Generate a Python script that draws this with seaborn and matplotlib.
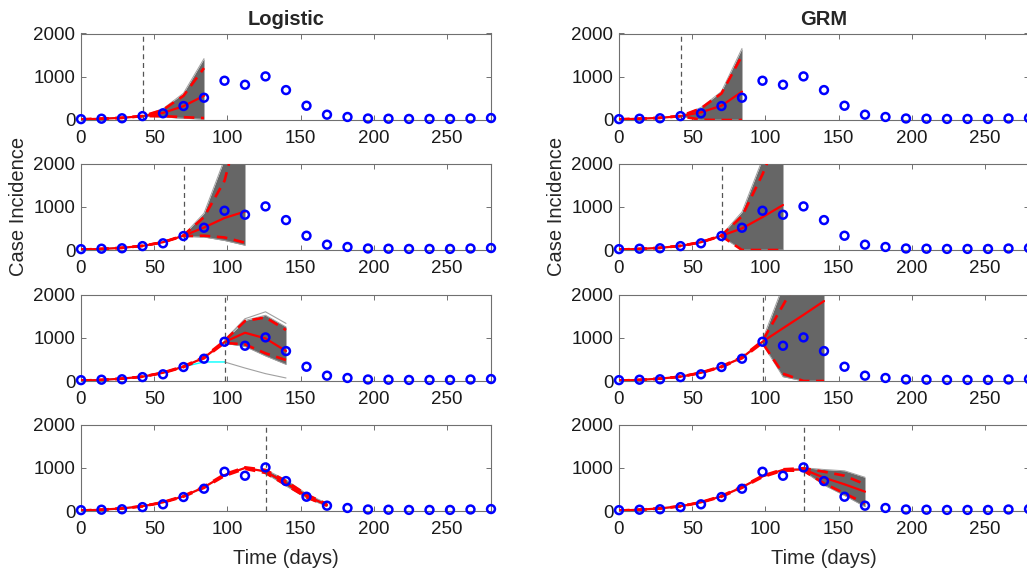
import matplotlib
matplotlib.use("Agg")

import matplotlib.pyplot as plt
import numpy as np
import seaborn as sns

# observed case incidence (every 14 days)
days = np.arange(0, 281, 14)
cases = [20, 30, 40, 90, 155, 323, 515, 908, 815, 1008, 692, 330, 123,
         70, 35, 30, 25, 25, 25, 35, 45]

# --- Logistic model, calibration ends at day 42 ---
log42_mean = [15, 30, 50, 90, 165, 320, 560]
log42_pi_lo = [15, 30, 50, 88, 90, 65, 45]
log42_pi_hi = [15, 30, 50, 92, 235, 560, 1200]
log42_ens_lo = [88, 70, 40, 20]
log42_ens_hi = [92, 260, 620, 1420]

# --- Logistic model, calibration ends at day 70 ---
log70_mean = [10, 25, 50, 95, 180, 330, 520, 740, 890]
log70_pi_lo = [10, 25, 50, 95, 180, 320, 330, 290, 170]
log70_pi_hi = [10, 25, 50, 95, 180, 340, 760, 1600, 3400]
log70_ens_lo = [315, 300, 220, 110]
log70_ens_hi = [345, 850, 2100, 4000]

# --- Logistic model, calibration ends at day 98 ---
log98_mean = [10, 25, 55, 100, 190, 330, 540, 900, 1116, 985, 693]
log98_pi_lo = [10, 25, 55, 100, 185, 320, 525, 880, 847, 640, 485]
log98_pi_hi = [10, 25, 55, 100, 195, 340, 555, 930, 1386, 1470, 1178]
log98_ens_lo = [870, 800, 580, 385]
log98_ens_hi = [940, 1400, 1520, 1250]
log98_ens_top = [950, 1440, 1600, 1332]
log98_ens_bottom = [440, 300, 170, 70]
log98_cyan = [10, 25, 55, 100, 190, 330, 440, 440]

# --- Logistic model, calibration ends at day 126 ---
log126_mean = [10, 30, 60, 110, 200, 340, 550, 830, 995, 915, 640, 346, 138]
log126_pi_lo = [10, 30, 60, 110, 195, 330, 535, 810, 975, 880, 600, 315, 120]
log126_pi_hi = [10, 30, 60, 110, 205, 350, 565, 850, 1010, 950, 690, 380, 160]
log126_ens_lo = [870, 580, 300, 110]
log126_ens_hi = [960, 720, 400, 175]

# --- GRM, calibration ends at day 42 ---
grm42_mean = [15, 30, 50, 90, 178, 330, 655]
grm42_pi_lo = [15, 30, 50, 88, 5, 0, 0]
grm42_pi_hi = [15, 30, 50, 92, 270, 615, 1485]
grm42_ens_lo = [88, 0, 0, 0]
grm42_ens_hi = [92, 290, 660, 1655]

# --- GRM, calibration ends at day 70 ---
grm70_mean = [10, 25, 50, 95, 180, 330, 500, 760, 1040]
grm70_pi_lo = [10, 25, 50, 95, 180, 320, 0, 0, 0]
grm70_pi_hi = [10, 25, 50, 95, 180, 340, 780, 1750, 2900]
grm70_ens_lo = [315, 0, 0, 0]
grm70_ens_hi = [345, 880, 2100, 4000]

# --- GRM, calibration ends at day 98 ---
grm98_mean = [10, 25, 55, 100, 190, 330, 540, 908, 1220, 1530, 1848]
grm98_pi_lo = [10, 25, 55, 100, 185, 320, 525, 880, 170, 0, 0]
grm98_pi_hi = [10, 25, 55, 100, 195, 340, 555, 930, 1750, 2600, 3300]
grm98_ens_lo = [860, 100, 0, 0]
grm98_ens_hi = [950, 2200, 3500, 4500]

# --- GRM, calibration ends at day 126 ---
grm126_mean = [10, 30, 60, 110, 200, 340, 550, 800, 950, 962, 770, 617, 447]
grm126_pi_lo = [10, 30, 60, 110, 195, 330, 535, 785, 935, 930, 640, 408, 178]
grm126_pi_hi = [10, 30, 60, 110, 205, 350, 565, 815, 965, 990, 908, 816, 617]
grm126_ens_lo = [920, 600, 360, 100]
grm126_ens_hi = [1000, 960, 930, 780]

panels = [
    (0, 0, 42, log42_mean, log42_pi_lo, log42_pi_hi, log42_ens_lo, log42_ens_hi),
    (1, 0, 70, log70_mean, log70_pi_lo, log70_pi_hi, log70_ens_lo, log70_ens_hi),
    (2, 0, 98, log98_mean, log98_pi_lo, log98_pi_hi, log98_ens_lo, log98_ens_hi),
    (3, 0, 126, log126_mean, log126_pi_lo, log126_pi_hi, log126_ens_lo, log126_ens_hi),
    (0, 1, 42, grm42_mean, grm42_pi_lo, grm42_pi_hi, grm42_ens_lo, grm42_ens_hi),
    (1, 1, 70, grm70_mean, grm70_pi_lo, grm70_pi_hi, grm70_ens_lo, grm70_ens_hi),
    (2, 1, 98, grm98_mean, grm98_pi_lo, grm98_pi_hi, grm98_ens_lo, grm98_ens_hi),
    (3, 1, 126, grm126_mean, grm126_pi_lo, grm126_pi_hi, grm126_ens_lo, grm126_ens_hi),
]

sns.set_style("ticks", {
    "xtick.direction": "in",
    "ytick.direction": "in",
})
plt.rcParams["font.family"] = ["Liberation Sans", "DejaVu Sans"]
plt.rcParams["axes.edgecolor"] = "#707070"
plt.rcParams["xtick.color"] = "#707070"
plt.rcParams["ytick.color"] = "#707070"
plt.rcParams["xtick.labelcolor"] = "#1a1a1a"
plt.rcParams["ytick.labelcolor"] = "#1a1a1a"

fig = plt.figure(figsize=(10.27, 5.73), dpi=100)

col_left = [81 / 1027, 619 / 1027]
row_bottom = [1 - 120 / 573, 1 - 250 / 573, 1 - 381 / 573, 1 - 511 / 573]
ax_w = 410 / 1027
ax_h = 86.5 / 573

axes = {}
for row, col, t_cal, mean, pi_lo, pi_hi, ens_lo, ens_hi in panels:
    ax = fig.add_axes([col_left[col], row_bottom[row], ax_w, ax_h])
    axes[(row, col)] = ax

    t_all = days[: len(mean)]
    t_fc = np.arange(t_cal, t_all[-1] + 1, 14)

    # forecast ensemble drawn as a gray band
    ax.fill_between(t_fc, ens_lo, ens_hi, color="#666666", lw=0, zorder=1)
    sns.lineplot(x=t_fc, y=ens_hi, ax=ax, color="#a0a0a0", lw=0.7, zorder=1)
    sns.lineplot(x=t_fc, y=ens_lo, ax=ax, color="#a0a0a0", lw=0.7, zorder=1)

    # fitted curve (cyan), mostly hidden under the red
    t_cal_pts = days[: list(days).index(t_cal) + 1]
    sns.lineplot(x=t_cal_pts, y=mean[: len(t_cal_pts)], ax=ax,
                 color="cyan", lw=1.2, zorder=2)

    sns.lineplot(x=t_all, y=mean, ax=ax, color="red", lw=1.6, zorder=3)
    sns.lineplot(x=t_all, y=pi_lo, ax=ax, color="red", lw=1.9,
                 zorder=3).lines[-1].set_dashes((4, 2.5))
    sns.lineplot(x=t_all, y=pi_hi, ax=ax, color="red", lw=1.9,
                 zorder=3).lines[-1].set_dashes((4, 2.5))

    ax.axvline(t_cal, color="#555555", lw=0.9, ls=(0, (4, 3)), zorder=4)

    sns.scatterplot(x=days, y=cases, ax=ax, marker="o", s=32,
                    facecolor="none", edgecolor="blue", linewidth=1.8,
                    zorder=5, clip_on=False)

    ax.set_xlim(0, 280)
    ax.set_ylim(0, 2000)
    ax.set_xticks([0, 50, 100, 150, 200, 250])
    ax.set_yticks([0, 1000, 2000])
    ax.tick_params(axis="both", labelsize=13.5, length=3.5, width=0.7,
                   top=True, right=True)
    ax.tick_params(axis="x", pad=7)
    ax.tick_params(axis="y", pad=4)
    for side in ax.spines.values():
        side.set_linewidth(0.8)
    ax.set_xlabel("")
    ax.set_ylabel("")

# extra realisations of the day-98 logistic forecast
ax = axes[(2, 0)]
t_fc98 = np.arange(98, 141, 14)
sns.lineplot(x=t_fc98, y=log98_ens_top, ax=ax, color="#a0a0a0", lw=0.8, zorder=1)
sns.lineplot(x=t_fc98, y=log98_ens_bottom, ax=ax, color="#a0a0a0", lw=0.8, zorder=1)
sns.lineplot(x=days[: len(log98_cyan)], y=log98_cyan, ax=ax, color="cyan",
             lw=1.0, zorder=2)

axes[(0, 0)].set_title("Logistic", fontsize=14.5, fontweight="bold", pad=6)
axes[(0, 1)].set_title("GRM", fontsize=14.5, fontweight="bold", pad=6)
for col in (0, 1):
    axes[(1, col)].set_ylabel("Case Incidence", fontsize=14.5, labelpad=4)
    axes[(3, col)].set_xlabel("Time (days)", fontsize=14.5, labelpad=8)

fig.savefig("out.png", dpi=100)
